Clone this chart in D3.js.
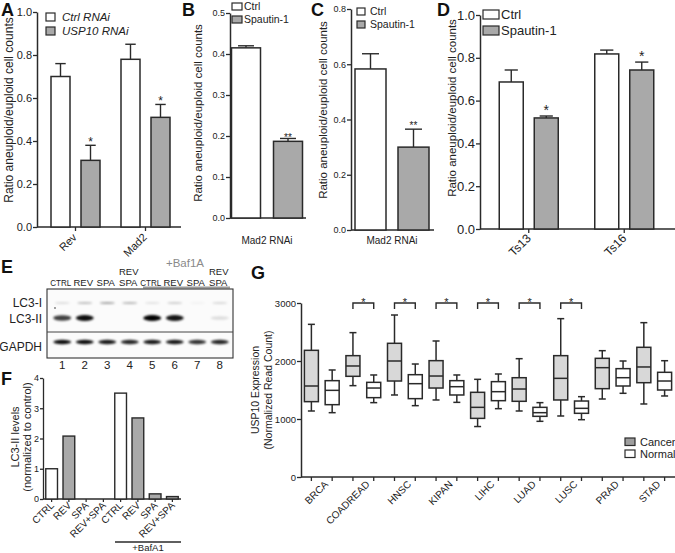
<!DOCTYPE html>
<html><head><meta charset="utf-8">
<script src="https://cdn.jsdelivr.net/npm/d3@7"></script>
<style>
body{margin:0;background:#fff}
svg text{font-family:"Liberation Sans",Arial,Helvetica,sans-serif;fill:#222}
</style>
</head><body><svg id="c" width="675" height="553"></svg>
<script>
// ---------------- DATA ----------------
// Panel A
const aCategories = ["Rev", "Mad2"];
const aSeries = ["Ctrl RNAi", "USP10 RNAi"];
const aCtrl = [0.70, 0.78];
const aCtrlErr = [0.06, 0.07];
const aTreat = [0.31, 0.51];
const aTreatErr = [0.07, 0.06];
const aStars = ["*", "*"];
// Panel B
const bCategories = ["Mad2 RNAi"];
const bSeries = ["Ctrl", "Spautin-1"];
const bCtrl = [0.415];
const bCtrlErr = [0.005];
const bTreat = [0.187];
const bTreatErr = [0.007];
const bStars = ["**"];
// Panel C
const cCategories = ["Mad2 RNAi"];
const cSeries = ["Ctrl", "Spautin-1"];
const cCtrl = [0.583];
const cCtrlErr = [0.055];
const cTreat = [0.30];
const cTreatErr = [0.065];
const cStars = ["**"];
// Panel D
const dCategories = ["Ts13", "Ts16"];
const dSeries = ["Ctrl", "Spautin-1"];
const dCtrl = [0.687, 0.818];
const dCtrlErr = [0.056, 0.018];
const dTreat = [0.519, 0.743];
const dTreatErr = [0.009, 0.037];
const dStars = ["*", "*"];
// Panel E (western blot band intensities, 0..1)
const eLanes = ["1", "2", "3", "4", "5", "6", "7", "8"];
const eLaneTop = ["", "", "", "REV", "", "", "", "REV"];
const eLaneLabel = ["CTRL", "REV", "SPA", "SPA", "CTRL", "REV", "SPA", "SPA"];
const eRows = ["LC3-I", "LC3-II", "GAPDH"];
const eLC3I = [0.12, 0.25, 0.35, 0.28, 0.10, 0.18, 0.04, 0.14];
const eLC3II = [0.75, 0.95, 0, 0, 1.0, 0.92, 0, 0.12];
const eGAPDH = [0.95, 0.95, 0.9, 0.85, 0.9, 0.9, 0.8, 0.85];
// Panel F
const fCategories = ["CTRL", "REV", "SPA", "REV+SPA", "CTRL", "REV", "SPA", "REV+SPA"];
const fValues = [1.0, 2.08, 0, 0, 3.5, 2.68, 0.17, 0.08];
const fIsControl = [true, false, false, false, true, false, false, false];
const fTicks = [0, 1, 2, 3, 4];
// Panel G (box plots: [min, q1, median, q3, max])
const gCategories = ["BRCA", "COADREAD", "HNSC", "KIPAN", "LIHC", "LUAD", "LUSC", "PRAD", "STAD"];
const gCancer = [
  [1138, 1299, 1569, 2184, 2632],
  [1575, 1736, 1914, 2092, 2489],
  [1414, 1655, 2000, 2305, 2793],
  [1328, 1534, 1741, 2006, 2345],
  [870, 1011, 1201, 1460, 1684],
  [1138, 1305, 1517, 1712, 2040],
  [1052, 1328, 1701, 2092, 2730],
  [1345, 1523, 1885, 2046, 2178],
  [1259, 1626, 1897, 2236, 2661]
];
const gNormal = [
  [1109, 1247, 1494, 1661, 1845],
  [1282, 1368, 1534, 1632, 1759],
  [1230, 1351, 1609, 1764, 1948],
  [1287, 1414, 1557, 1661, 1759],
  [1178, 1316, 1471, 1644, 1776],
  [960, 1046, 1109, 1201, 1282],
  [988, 1098, 1184, 1310, 1385],
  [1443, 1569, 1712, 1868, 2000],
  [1397, 1500, 1655, 1805, 2005]
];
const gSignificant = [false, true, true, true, true, true, true, false, false];
const gTicks = [0, 1000, 2000, 3000];
const gLegend = ["Cancer", "Normal"];

// ---------------- DRAWING ----------------
const svg = d3.select("#c");
const INK = "#2a2a2a";
const BARGRAY = "#a9a9a9";

function letter(t, x, y) {
  svg.append("text").attr("x", x).attr("y", y).attr("font-size", 18)
    .attr("font-weight", "bold").style("fill", "#111").text(t);
}
function rotLabel(lines, x0, cy, fs, gap) {
  lines.forEach((t, i) => {
    svg.append("text").attr("transform", `translate(${x0 + i * gap},${cy}) rotate(-90)`)
      .attr("text-anchor", "middle").attr("font-size", fs).text(t);
  });
}
function styleAxis(g, fs) {
  g.select(".domain").attr("stroke", INK).attr("stroke-width", 1.5);
  g.selectAll(".tick line").attr("stroke", INK).attr("stroke-width", 1.3);
  g.selectAll(".tick text").attr("font-size", fs).style("fill", "#222")
    .attr("font-family", '"Liberation Sans",Arial,sans-serif');
}

function barPanel(o) {
  const y = d3.scaleLinear().domain([0, o.yMax]).range([o.y0, o.yTop]);
  const ga = svg.append("g").attr("transform", `translate(${o.ax},0)`)
    .call(d3.axisLeft(y).tickValues(d3.range(0, o.yMax + 1e-9, o.step))
      .tickFormat(d3.format(".1f")).tickSize(4).tickSizeOuter(0).tickPadding(1));
  styleAxis(ga, o.tickFs);
  svg.append("line").attr("x1", o.ax).attr("x2", o.axRight).attr("y1", o.y0).attr("y2", o.y0)
    .attr("stroke", INK).attr("stroke-width", 1.5);
  const x = d3.scaleBand().domain(o.cats).range(o.groupRange);
  const W = 2 * o.bw + o.gap;
  const xs = d3.scaleBand().domain(o.series).range([-W / 2, W / 2]).paddingInner(o.gap / (o.bw + o.gap));
  const rows = [
    { s: o.series[0], vals: o.ctrl, errs: o.ctrlErr, fill: "#fff", stars: null },
    { s: o.series[1], vals: o.treat, errs: o.treatErr, fill: BARGRAY, stars: o.stars }
  ];
  o.cats.forEach((c, i) => {
    const cx = x(c) + x.bandwidth() / 2;
    if (o.xTicks) {
      svg.append("line").attr("x1", cx).attr("x2", cx).attr("y1", o.y0).attr("y2", o.y0 + 4)
        .attr("stroke", INK).attr("stroke-width", 1.3);
    }
    rows.forEach(r => {
      const bx = cx + xs(r.s);
      const v = r.vals[i], e = r.errs[i];
      const mid = bx + xs.bandwidth() / 2;
      const capW = xs.bandwidth() * 0.55;
      svg.append("line").attr("x1", mid).attr("x2", mid).attr("y1", y(v)).attr("y2", y(v + e))
        .attr("stroke", INK).attr("stroke-width", 1.4);
      svg.append("line").attr("x1", mid - capW / 2).attr("x2", mid + capW / 2)
        .attr("y1", y(v + e)).attr("y2", y(v + e)).attr("stroke", INK).attr("stroke-width", 1.4);
      svg.append("rect").attr("x", bx).attr("y", y(v)).attr("width", xs.bandwidth())
        .attr("height", o.y0 - y(v)).attr("fill", r.fill).attr("stroke", INK).attr("stroke-width", 1.5);
      if (r.stars) {
        svg.append("text").attr("x", mid).attr("y", y(v + e) + o.starDy).attr("text-anchor", "middle")
          .attr("font-size", o.starFs).text(r.stars[i]);
      }
    });
    if (o.rotated) {
      svg.append("text").attr("transform", `translate(${cx + o.labDx},${o.y0 + o.labDy}) rotate(-45)`)
        .attr("text-anchor", "end").attr("font-size", o.labFs).text(c);
    } else {
      svg.append("text").attr("x", cx).attr("y", o.labY).attr("text-anchor", "middle")
        .attr("font-size", o.labFs).text(c);
    }
  });
  // legend
  o.series.forEach((s, i) => {
    const L = o.legend;
    svg.append("rect").attr("x", L.x).attr("y", L.y + i * L.dy).attr("width", L.w).attr("height", L.h)
      .attr("fill", i === 0 ? "#fff" : BARGRAY).attr("stroke", INK).attr("stroke-width", 1.2);
    svg.append("text").attr("x", L.x + L.w + L.tx).attr("y", L.y + i * L.dy + L.h - 0.5)
      .attr("font-size", L.fs).attr("font-style", L.italic ? "italic" : "normal").text(s);
  });
  rotLabel(["Ratio aneuploid/euploid cell counts"], o.ylabX, o.ylabY, o.ylabFs, 0);
}

// Panel A
letter("A", 1, 16);
barPanel({
  ax: 37, axRight: 181, y0: 227, yTop: 12, yMax: 1.0, step: 0.2, tickFs: 11,
  cats: aCategories, series: aSeries, ctrl: aCtrl, ctrlErr: aCtrlErr, treat: aTreat, treatErr: aTreatErr,
  stars: aStars, groupRange: [40.5, 180.5], bw: 19, gap: 11, starFs: 12, starDy: 1,
  rotated: true, labDx: 2, labDy: 11, labFs: 11, xTicks: true,
  legend: { x: 46, y: 13, w: 9, h: 8, dy: 14, tx: 7, fs: 11.5, italic: true },
  ylabX: 13, ylabY: 110, ylabFs: 12
});
// Panel B
letter("B", 182, 16);
barPanel({
  ax: 230, axRight: 306, y0: 218, yTop: 13, yMax: 0.5, step: 0.1, tickFs: 9,
  cats: bCategories, series: bSeries, ctrl: bCtrl, ctrlErr: bCtrlErr, treat: bTreat, treatErr: bTreatErr,
  stars: bStars, groupRange: [230, 304], bw: 29, gap: 13, starFs: 10, starDy: 3,
  rotated: false, labY: 244, labFs: 10, xTicks: false,
  legend: { x: 232, y: 3, w: 10, h: 7, dy: 13, tx: 2, fs: 10.5, italic: false },
  ylabX: 202, ylabY: 113, ylabFs: 11.5
});
// Panel C
letter("C", 311, 16);
barPanel({
  ax: 351, axRight: 434, y0: 230, yTop: 9, yMax: 0.8, step: 0.2, tickFs: 9,
  cats: cCategories, series: cSeries, ctrl: cCtrl, ctrlErr: cCtrlErr, treat: cTreat, treatErr: cTreatErr,
  stars: cStars, groupRange: [351, 433], bw: 31, gap: 12, starFs: 10, starDy: 0,
  rotated: false, labY: 244, labFs: 10, xTicks: false,
  legend: { x: 357, y: 8, w: 8, h: 7, dy: 13, tx: 5, fs: 10.5, italic: false },
  ylabX: 327, ylabY: 110, ylabFs: 11.5
});
// Panel D
letter("D", 437, 16);
barPanel({
  ax: 480, axRight: 675, y0: 229, yTop: 15, yMax: 1.0, step: 0.2, tickFs: 13,
  cats: dCategories, series: dSeries, ctrl: dCtrl, ctrlErr: dCtrlErr, treat: dTreat, treatErr: dTreatErr,
  stars: dStars, groupRange: [481, 672], bw: 24, gap: 11, starFs: 14, starDy: -1,
  rotated: true, labDx: 3, labDy: 10, labFs: 12, xTicks: true,
  legend: { x: 483, y: 10, w: 16, h: 9, dy: 16, tx: 2, fs: 13, italic: false },
  ylabX: 456, ylabY: 108, ylabFs: 11.5
});

// Panel E: western blot
letter("E", 1, 273);
(function () {
  const x = d3.scaleBand().domain(eLanes).range([51, 231]);
  const cx = l => x(l) + x.bandwidth() / 2;
  const defs = svg.append("defs");
  const f = defs.append("filter").attr("id", "blur").attr("x", "-30%").attr("y", "-100%").attr("width", "160%").attr("height", "300%");
  f.append("feGaussianBlur").attr("stdDeviation", "1.1 0.9");
  svg.append("text").attr("x", 185).attr("y", 267).attr("text-anchor", "middle").attr("font-size", 11.5)
    .style("fill", "#8a8a8a").text("+Baf1A");
  svg.append("line").attr("x1", 143).attr("x2", 230).attr("y1", 287.5).attr("y2", 287.5)
    .attr("stroke", "#9a9a9a").attr("stroke-width", 2);
  eLanes.forEach((l, i) => {
    if (eLaneTop[i]) svg.append("text").attr("x", cx(l) - 1).attr("y", 275).attr("text-anchor", "middle")
      .attr("font-size", 9.5).text(eLaneTop[i]);
    svg.append("text").attr("x", cx(l) - 1.5).attr("y", 285.5).attr("text-anchor", "middle")
      .attr("font-size", 9.5).attr("textLength", eLaneLabel[i].length > 3 ? 21 : null)
      .attr("lengthAdjust", "spacingAndGlyphs").text(eLaneLabel[i]);
    svg.append("text").attr("x", cx(l)).attr("y", 369).attr("text-anchor", "middle")
      .attr("font-size", 11.5).text(l);
  });
  svg.append("rect").attr("x", 47).attr("y", 289).attr("width", 186).attr("height", 69)
    .attr("fill", "#fbfbfb").attr("stroke", "#333").attr("stroke-width", 1.1);
  svg.append("line").attr("x1", 47).attr("x2", 233).attr("y1", 332).attr("y2", 332)
    .attr("stroke", "#444").attr("stroke-width", 1);
  const rowY = [303, 318, 342];
  const rowH = [2.2, 6, 4.5];
  const rowW = [15, 18, 18];
  [eLC3I, eLC3II, eGAPDH].forEach((arr, r) => {
    eLanes.forEach((l, i) => {
      const v = arr[i];
      if (v <= 0) return;
      const h = r === 1 ? Math.max(2, rowH[r] * (0.55 + 0.45 * v)) : rowH[r];
      svg.append("ellipse").attr("cx", cx(l)).attr("cy", rowY[r]).attr("rx", rowW[r] / 2)
        .attr("ry", h / 2).attr("fill", "#000").attr("fill-opacity", v).attr("filter", "url(#blur)");
    });
  });
  // small speck in lane 1
  svg.append("circle").attr("cx", 55).attr("cy", 308).attr("r", 0.9).attr("fill", "#777");
  eRows.forEach((t, i) => {
    svg.append("text").attr("x", 42).attr("y", [307, 323, 351][i]).attr("text-anchor", "end")
      .attr("font-size", 12).text(t);
  });
})();

// Panel F
letter("F", 1, 385);
(function () {
  const y = d3.scaleLinear().domain([0, 4]).range([499, 378]);
  const x = d3.scaleBand().domain(d3.range(fCategories.length)).range([43, 181]).paddingInner(0.32).paddingOuter(0.16);
  const ga = svg.append("g").attr("transform", "translate(43,0)")
    .call(d3.axisLeft(y).tickValues(fTicks).tickFormat(d3.format("d")).tickSize(3).tickSizeOuter(0).tickPadding(1));
  styleAxis(ga, 9);
  ga.select(".domain").attr("stroke-width", 1.3);
  svg.append("line").attr("x1", 43).attr("x2", 181).attr("y1", 499).attr("y2", 499)
    .attr("stroke", INK).attr("stroke-width", 1.5);
  fCategories.forEach((c, i) => {
    const bx = x(i), cx = bx + x.bandwidth() / 2;
    svg.append("line").attr("x1", cx).attr("x2", cx).attr("y1", 499).attr("y2", 502)
      .attr("stroke", INK).attr("stroke-width", 1.2);
    if (fValues[i] > 0) {
      svg.append("rect").attr("x", bx).attr("y", y(fValues[i])).attr("width", x.bandwidth())
        .attr("height", 499 - y(fValues[i])).attr("fill", fIsControl[i] ? "#fff" : BARGRAY)
        .attr("stroke", INK).attr("stroke-width", 1.4);
    }
    svg.append("text").attr("transform", `translate(${cx + 3},${506}) rotate(-45)`)
      .attr("text-anchor", "end").attr("font-size", 10).text(c);
  });
  svg.append("line").attr("x1", 115).attr("x2", 181).attr("y1", 542).attr("y2", 542)
    .attr("stroke", INK).attr("stroke-width", 1.3);
  svg.append("text").attr("x", 148).attr("y", 551).attr("text-anchor", "middle").attr("font-size", 9.5).text("+BafA1");
  rotLabel(["LC3-II levels", "(normalized to control)"], 19, 437, 11, 12);
})();

// Panel G
letter("G", 251, 279);
(function () {
  const y = d3.scaleLinear().domain([0, 3000]).range([477, 303]);
  const keys = [];
  gCategories.forEach(c => { keys.push(c + "|C"); keys.push(c + "|N"); });
  const x = d3.scaleBand().domain(keys).range([301, 675]);
  const ga = svg.append("g").attr("transform", "translate(301,0)")
    .call(d3.axisLeft(y).tickValues(gTicks).tickFormat(d3.format("d")).tickSize(4).tickSizeOuter(0).tickPadding(1));
  styleAxis(ga, 9.5);
  svg.append("line").attr("x1", 301).attr("x2", 675).attr("y1", 477).attr("y2", 477)
    .attr("stroke", INK).attr("stroke-width", 1.5);
  const bw = 14, cap = 7;
  function box(k, d, fill) {
    const cx = x(k) + x.bandwidth() / 2;
    svg.append("line").attr("x1", cx).attr("x2", cx).attr("y1", 477).attr("y2", 481)
      .attr("stroke", INK).attr("stroke-width", 1.3);
    const ln = (x1, x2, y1, y2) => svg.append("line").attr("x1", x1).attr("x2", x2).attr("y1", y1).attr("y2", y2)
      .attr("stroke", INK).attr("stroke-width", 1.5);
    ln(cx, cx, y(d[0]), y(d[1]));
    ln(cx, cx, y(d[3]), y(d[4]));
    ln(cx - cap / 2, cx + cap / 2, y(d[0]), y(d[0]));
    ln(cx - cap / 2, cx + cap / 2, y(d[4]), y(d[4]));
    svg.append("rect").attr("x", cx - bw / 2).attr("y", y(d[3])).attr("width", bw).attr("height", y(d[1]) - y(d[3]))
      .attr("fill", fill).attr("stroke", INK).attr("stroke-width", 1.5);
    ln(cx - bw / 2, cx + bw / 2, y(d[2]), y(d[2]));
    return cx;
  }
  gCategories.forEach((c, i) => {
    const c1 = box(c + "|C", gCancer[i], "#d8d8d8");
    const c2 = box(c + "|N", gNormal[i], "#fff");
    const mid = (c1 + c2) / 2;
    svg.append("text").attr("transform", `translate(${mid + 7},${485}) rotate(-45)`)
      .attr("text-anchor", "end").attr("font-size", 10).text(c);
    if (gSignificant[i]) {
      const yt = y(3000);
      svg.append("path").attr("d", `M${c1},${yt + 6}V${yt}H${c2}V${yt + 6}`).attr("fill", "none")
        .attr("stroke", INK).attr("stroke-width", 1.4);
      svg.append("text").attr("x", mid).attr("y", yt + 3).attr("text-anchor", "middle").attr("font-size", 11).text("*");
    }
  });
  gLegend.forEach((t, i) => {
    svg.append("rect").attr("x", 625).attr("y", 438 + i * 12).attr("width", 10).attr("height", 7.5)
      .attr("fill", i === 0 ? "#9e9e9e" : "#fff").attr("stroke", INK).attr("stroke-width", 1.2);
    svg.append("text").attr("x", 640).attr("y", 446 + i * 12).attr("font-size", 11).text(t);
  });
  rotLabel(["USP10 Expression", "(Normalized Read Count)"], 259, 390, 10.5, 12.5);
})();
</script>
</body></html>
